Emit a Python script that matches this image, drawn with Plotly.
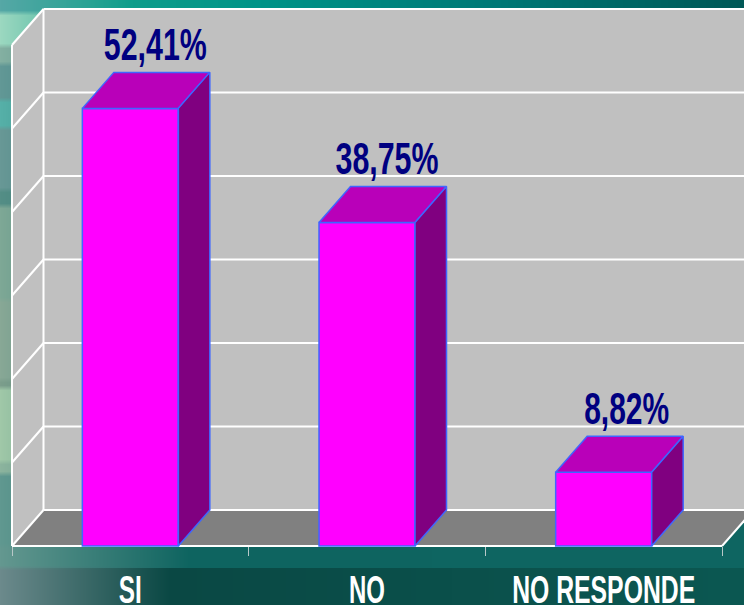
import base64, json, struct, zlib
import numpy as np
import plotly.graph_objects as go

categories = ["SI", "NO", "NO RESPONDE"]
values = [52.41, 38.75, 8.82]
value_labels = ["52,41%", "38,75%", "8,82%"]
grid_values = [0, 10, 20, 30, 40, 50, 60]
text_widths = {"52,41%": 103, "38,75%": 103, "8,82%": 85, "SI": 23, "NO": 36, "NO RESPONDE": 183}

W, H = 744, 605
X0, CAT_W = 12.0, 236.67      # px of category edge, px per category
Y0, PX_PER_UNIT = 546.0, 8.35  # px of value 0, px per value unit
DX = 31.5 / CAT_W             # 3D depth in x units
DY = 36.0 / PX_PER_UNIT       # 3D depth in y units
BAR_W = 96.0 / CAT_W
label_shift_x = [25.0 / CAT_W, 20.0 / CAT_W, 23.0 / CAT_W]
label_shift_y = 1.0 / PX_PER_UNIT

MAG, TOP, SIDE, EDGE = "#ff00ff", "#b900b9", "#800080", "#3f66ff"
WALL, FLOOR, WHITE, NAVY = "#c0c0c0", "#808080", "#ffffff", "#000080"
FONT = "Liberation Sans, Arial, sans-serif"


def background():
    left_bands = [
        (0, 13, (86, 168, 166)), (13, 46, (156, 216, 192)), (46, 64, (132, 176, 162)),
        (64, 100, (98, 152, 150)), (100, 128, (86, 176, 168)), (128, 190, (104, 152, 150)),
        (190, 206, (84, 142, 134)), (206, 300, (126, 168, 150)), (300, 380, (136, 168, 150)),
        (380, 388, (124, 158, 140)), (388, 462, (160, 200, 168)), (462, 474, (140, 180, 158)),
        (474, 546, (96, 152, 144)), (546, 568, (100, 152, 144)), (568, 605, (108, 138, 140)),
    ]
    left = np.zeros((H, 3))
    for a, b, c in left_bands:
        left[a:b] = c
    kernel = np.ones(5) / 5
    pad = np.pad(left, ((2, 2), (0, 0)), mode="edge")
    left = np.stack([np.convolve(pad[:, c], kernel, mode="valid") for c in range(3)], 1)
    img = np.zeros((H, W, 3))
    xs = np.arange(W)
    for y in range(H):
        if y < 46:
            base = np.stack([np.interp(xs, [90, 260, 500, 744], v) for v in
                             [(20, 0, 0, 0), (160, 148, 120, 88), (140, 136, 118, 86)]], 1)
            span = 130.0
        elif y < 568:
            base = np.stack([np.interp(xs, [120, 744], v) for v in
                             [(14, 14), (100, 102), (96, 98)]], 1)
            span = 190.0
        else:
            base = np.stack([np.interp(xs, [160, 744], v) for v in
                             [(10, 12), (72, 88), (68, 82)]], 1)
            span = 170.0
        t = np.clip(xs / span, 0, 1)[:, None]
        img[y] = left[y] * (1 - t) + base * t
    raw = b"".join(b"\x00" + row.tobytes() for row in img.astype(np.uint8))

    def chunk(tag, data):
        return struct.pack(">I", len(data)) + tag + data + struct.pack(">I", zlib.crc32(tag + data))

    png = (b"\x89PNG\r\n\x1a\n" + chunk(b"IHDR", struct.pack(">IIBBBBB", W, H, 8, 2, 0, 0, 0))
           + chunk(b"IDAT", zlib.compress(raw, 9)) + chunk(b"IEND", b""))
    return "data:image/png;base64," + base64.b64encode(png).decode()


x_lo, x_hi = -0.5 - X0 / CAT_W, -0.5 + (W - X0) / CAT_W
y_lo, y_hi = (Y0 - H) / PX_PER_UNIT, Y0 / PX_PER_UNIT
x_l, x_r = -0.5, 2.5
y_top = grid_values[-1]


def poly(xs, ys, fill):
    return dict(type="path", layer="below", line=dict(width=0), fillcolor=fill,
                path="M" + " L".join(f"{a},{b}" for a, b in zip(xs, ys)) + " Z")


def seg(x1, y1, x2, y2, color=WHITE, width=2):
    return dict(type="line", layer="below", x0=x1, y0=y1, x1=x2, y1=y2,
                line=dict(color=color, width=width))


shapes = [
    poly([x_l + DX, x_r + DX, x_r + DX, x_l + DX], [DY, DY, y_top + DY, y_top + DY], WALL),
    poly([x_l, x_l + DX, x_l + DX, x_l], [0, DY, y_top + DY, y_top], WALL),
    poly([x_l, x_l + DX, x_r + DX, x_r], [0, DY, DY, 0], FLOOR),
]
for g in grid_values:
    shapes.append(seg(x_l, g, x_l + DX, g + DY))
    shapes.append(seg(x_l + DX, g + DY, x_r + DX, g + DY))
shapes += [seg(x_l, 0, x_l, y_top), seg(x_l + DX, DY, x_l + DX, y_top + DY),
           seg(x_l, 0, x_r, 0), seg(x_r, 0, x_r + DX, DY)]

fig = go.Figure()
fig.add_bar(x=list(range(len(values))), y=values, width=BAR_W,
            marker=dict(color=MAG, line=dict(color=EDGE, width=1.5)), hoverinfo="skip")
for i, v in enumerate(values):
    l, r = i - BAR_W / 2, i + BAR_W / 2
    fig.add_scatter(x=[l, l + DX, r + DX, r, l], y=[v, v + DY, v + DY, v, v], mode="lines",
                    fill="toself", fillcolor=TOP, line=dict(color=EDGE, width=1.5), hoverinfo="skip")
    fig.add_scatter(x=[r, r + DX, r + DX, r, r], y=[0, DY, v + DY, v, 0], mode="lines",
                    fill="toself", fillcolor=SIDE, line=dict(color=EDGE, width=1.5), hoverinfo="skip")
fig.add_scatter(x=[i + s for i, s in enumerate(label_shift_x)],
                y=[v + DY + label_shift_y for v in values], mode="text", text=value_labels,
                textposition="top center",
                textfont=dict(family=FONT, size=44, color=NAVY, weight="bold"), hoverinfo="skip")

fig.update_layout(
    width=W, height=H, margin=dict(l=0, r=0, t=0, b=0), autosize=False, showlegend=False,
    paper_bgcolor="#0c5a54", plot_bgcolor="rgba(0,0,0,0)", shapes=shapes,
    images=[dict(source=background(), xref="paper", yref="paper", x=0, y=1, sizex=1, sizey=1,
                 sizing="stretch", layer="below", xanchor="left", yanchor="top")],
    xaxis=dict(range=[x_lo, x_hi], anchor="free", position=(H - Y0) / H, showgrid=False,
               zeroline=False, showline=False, tickmode="array", tickvals=list(range(len(categories))),
               ticktext=categories, ticks="", ticklabelstandoff=17, automargin=False,
               tickangle=0, ticklabeloverflow="allow",
               tickfont=dict(family=FONT, size=39, color=WHITE, weight="bold"),
               minor=dict(tickmode="array", tickvals=[x_l, 0.5, 1.5, x_r], ticks="outside", ticklen=9,
                          tickwidth=1, tickcolor="#b8c8c8", showgrid=False)),
    yaxis=dict(range=[y_lo, y_hi], visible=False, automargin=False),
)
post = """
document.documentElement.style.margin = '0';
document.body.style.margin = '0';
document.body.style.overflow = 'hidden';
var widths = %s;
document.querySelectorAll('svg text').forEach(function (t) {
  var w = widths[t.textContent];
  if (w) { t.setAttribute('textLength', w); t.setAttribute('lengthAdjust', 'spacingAndGlyphs'); }
});
""" % json.dumps(text_widths)
fig.write_html("out.html", post_script=post, config=dict(displayModeBar=False))
